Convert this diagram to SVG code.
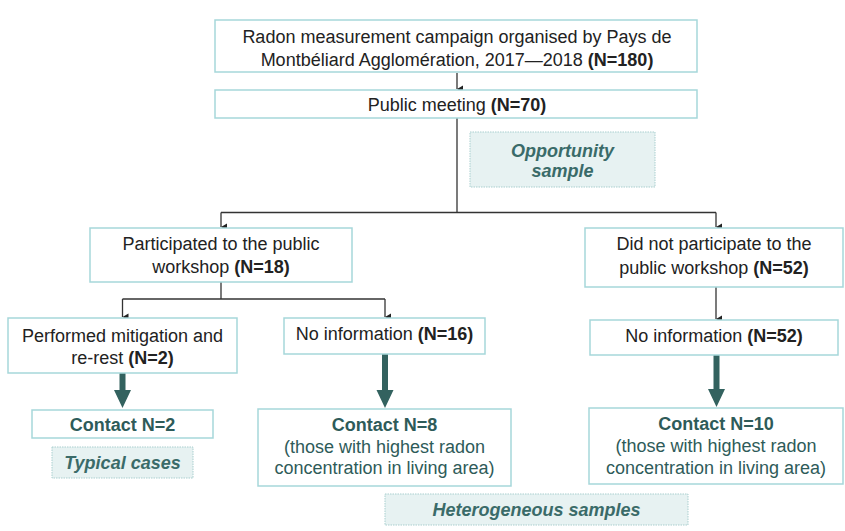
<svg xmlns="http://www.w3.org/2000/svg" width="845" height="531" viewBox="0 0 845 531">
<defs>
<marker id="ah" markerWidth="8" markerHeight="8" refX="4" refY="7" orient="auto" markerUnits="userSpaceOnUse" viewBox="0 0 8 8">
<path d="M0.5,1 L7.5,1 L4,7 Z" fill="#222"/>
</marker>
<style>
.box{fill:#fff;stroke:#a6d7da;stroke-width:1.5}
.tag{fill:#e7f2f2;stroke:#a9cfcf;stroke-width:1;stroke-dasharray:1.5 1}
.t{font-family:"Liberation Sans",Arial,sans-serif;font-size:18px;fill:#222;text-anchor:middle}
.b{font-weight:bold}
.c{fill:#2e5b59}
.tg{font-family:"Liberation Sans",Arial,sans-serif;font-size:18px;font-weight:bold;font-style:italic;fill:#3a6b69;text-anchor:middle}
.ln{fill:none;stroke:#333;stroke-width:1.3}
.thick{fill:#33625f}
</style>
</defs>
<g id="connectors">
<path class="ln" d="M457,73 V89" marker-end="url(#ah)"/>
<path class="ln" d="M457,118 V212.5"/>
<path class="ln" d="M221,212.5 H716"/>
<path class="ln" d="M221,212.5 V227" marker-end="url(#ah)"/>
<path class="ln" d="M716,212.5 V227" marker-end="url(#ah)"/>
<path class="ln" d="M221,282 V299"/>
<path class="ln" d="M122.5,299 H385"/>
<path class="ln" d="M122.5,299 V317" marker-end="url(#ah)"/>
<path class="ln" d="M385,299 V317" marker-end="url(#ah)"/>
<path class="ln" d="M716,287 V319" marker-end="url(#ah)"/>
<path class="thick" d="M119.5,373 H125.5 V390 H131 L122.5,408 L114,390 H119.5 Z"/>
<path class="thick" d="M382,354 H388 V390 H393.5 L385,408 L376.5,390 H382 Z"/>
<path class="thick" d="M713.5,355 H719.5 V389 H725 L716.5,407 L708,389 H713.5 Z"/>
</g>
<g id="n-campaign">
<rect class="box" x="215" y="20" width="482" height="52"/>
<text class="t" x="457" y="43">Radon measurement campaign organised by Pays de</text>
<text class="t" x="457" y="66">Montbéliard Agglomération, 2017—2018 <tspan class="b">(N=180)</tspan></text>
</g>
<g id="n-meeting">
<rect class="box" x="215" y="90" width="482" height="28"/>
<text class="t" x="457" y="110.5">Public meeting <tspan class="b">(N=70)</tspan></text>
</g>
<g id="n-opportunity">
<rect class="tag" x="470" y="132" width="185" height="55"/>
<text class="tg" x="562.5" y="156.5">Opportunity</text>
<text class="tg" x="562.5" y="176.5">sample</text>
</g>
<g id="n-participated">
<rect class="box" x="90" y="228" width="262" height="54"/>
<text class="t" x="221" y="249.5">Participated to the public</text>
<text class="t" x="221" y="272.5">workshop <tspan class="b">(N=18)</tspan></text>
</g>
<g id="n-notparticipated">
<rect class="box" x="585" y="228" width="258" height="59"/>
<text class="t" x="714" y="249.5">Did not participate to the</text>
<text class="t" x="714" y="273.5">public workshop <tspan class="b">(N=52)</tspan></text>
</g>
<g id="n-mitigation">
<rect class="box" x="8" y="318" width="229" height="55"/>
<text class="t" x="122.5" y="341.5">Performed mitigation and</text>
<text class="t" x="122.5" y="363.5">re-rest <tspan class="b">(N=2)</tspan></text>
</g>
<g id="n-noinfo16">
<rect class="box" x="284" y="318" width="201" height="36"/>
<text class="t" x="384.5" y="339.5">No information <tspan class="b">(N=16)</tspan></text>
</g>
<g id="n-noinfo52">
<rect class="box" x="590" y="320" width="248" height="35"/>
<text class="t" x="714" y="341.5">No information <tspan class="b">(N=52)</tspan></text>
</g>
<g id="n-contact2">
<rect class="box" x="32" y="410" width="181" height="28"/>
<text class="t b c" x="122.5" y="431">Contact N=2</text>
</g>
<g id="n-typical">
<rect class="tag" x="52" y="447" width="141" height="31"/>
<text class="tg" x="122.5" y="469">Typical cases</text>
</g>
<g id="n-contact8">
<rect class="box" x="258" y="409" width="253" height="77"/>
<text class="t b c" x="384.5" y="431">Contact N=8</text>
<text class="t c" x="384.5" y="453">(those with highest radon</text>
<text class="t c" x="384.5" y="474">concentration in living area)</text>
</g>
<g id="n-contact10">
<rect class="box" x="589" y="408" width="254" height="76"/>
<text class="t b c" x="716" y="429.5">Contact N=10</text>
<text class="t c" x="716" y="452">(those with highest radon</text>
<text class="t c" x="716" y="474">concentration in living area)</text>
</g>
<g id="n-heterogeneous">
<rect class="tag" x="385" y="494" width="303" height="31"/>
<text class="tg" x="536.5" y="515.5">Heterogeneous samples</text>
</g>
</svg>
